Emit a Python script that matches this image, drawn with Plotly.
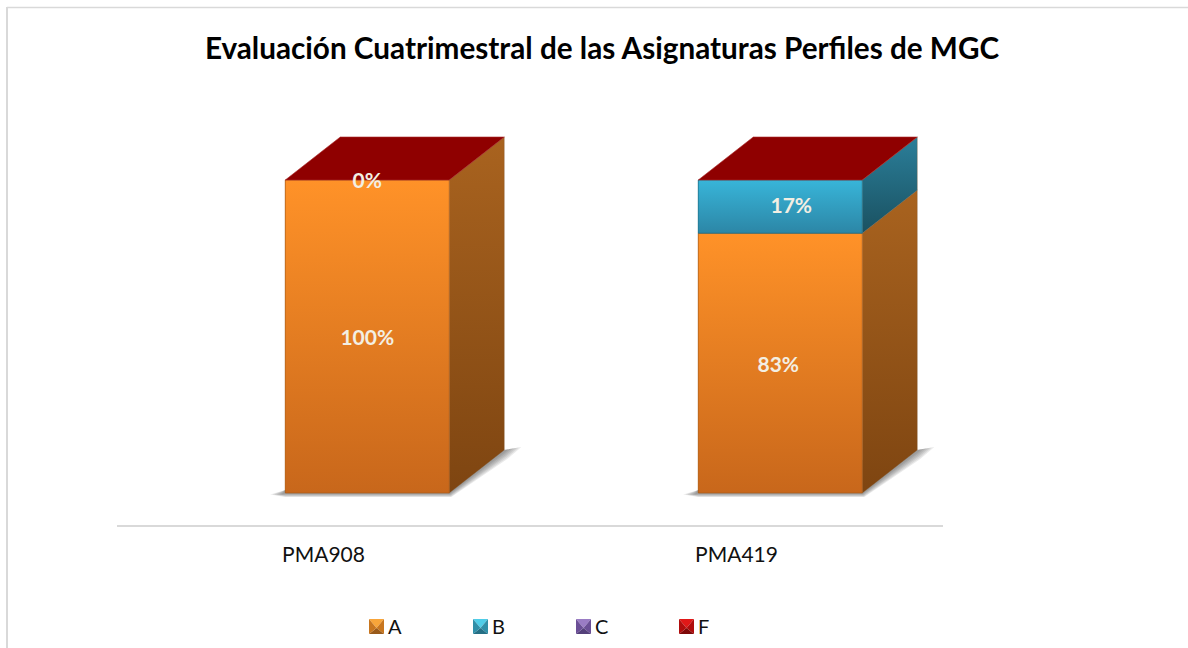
import plotly.graph_objects as go

W, H = 1188, 648
FONT = "Lato"

title = "Evaluación Cuatrimestral de las Asignaturas Perfiles de MGC"
subjects = ["PMA908", "PMA419"]
series_names = ["A", "B", "C", "F"]
values_a = [100, 83]
values_b = [0, 17]
values_c = [0, 0]
values_f = [0, 0]
label_a = ["100%", "83%"]
label_b = ["0%", "17%"]

# axis scale: pixels per data unit
PX_X = 413
PX_Y = 3.13
BAR_W = 164 / PX_X
BAR_SHIFT = 0.106
DEPTH_X = 55 / PX_X
DEPTH_Y = 43 / PX_Y

front = {"A": ("#C8671B", "#FF9228"), "B": ("#2C86A6", "#38B5D9")}
side = {"A": ("#7E4511", "#A9631F"), "B": ("#1A5161", "#2B7F9A")}
edge = {"A": "rgba(170,95,30,0.75)", "B": "rgba(30,110,135,0.75)"}
top_color = "#8F0000"
bevel = {
    "A": ("#F8A53A", "#C8761F", "#995A1A"),
    "B": ("#4FCDE8", "#2F8FA8", "#256F85"),
    "C": ("#9A7CC4", "#6B4F96", "#54407A"),
    "F": ("#E01818", "#B00D0D", "#7E0808"),
}


def fx(px):
    return px / W


def fy(py):
    return 1 - py / H


def poly(points, color, line=None, name=""):
    xs = [p[0] for p in points] + [points[0][0]]
    ys = [p[1] for p in points] + [points[0][1]]
    return go.Scatter(
        x=xs, y=ys, mode="lines", fill="toself", fillcolor=color,
        line=dict(color=line or "rgba(0,0,0,0)", width=1),
        hoverinfo="skip", showlegend=False, name=name,
    )


def grad_poly(points, colors, line=None):
    tr = poly(points, "rgba(0,0,0,0)", line)
    tr.fillcolor = None
    tr.fillgradient = dict(type="vertical", colorscale=[[0, colors[0]], [1, colors[1]]])
    return tr


fig = go.Figure()

# real bars underneath the shaded faces
for name, vals in zip(series_names, [values_a, values_b, values_c, values_f]):
    color = front[name][1] if name in front else bevel[name][1]
    fig.add_trace(go.Bar(
        x=[i + BAR_SHIFT for i in range(len(subjects))], y=vals, name=name,
        width=BAR_W, marker=dict(color=color, line=dict(width=0)), showlegend=False,
    ))

for i in range(len(subjects)):
    x0 = i + BAR_SHIFT - BAR_W / 2
    x1 = x0 + BAR_W
    xb = x1 + DEPTH_X
    total = values_a[i] + values_b[i] + values_c[i] + values_f[i]

    # soft floor shadow, a few translucent layers
    for g in [1, 0.85, 0.7, 0.55, 0.4, 0.25]:
        fig.add_trace(poly([
            (x0 - 15 * g / PX_X, -1.5 / PX_Y),
            (x0, 3 / PX_Y),
            (xb, DEPTH_Y),
            (xb + 17 * g / PX_X, DEPTH_Y + 3 * g / PX_Y),
            (xb + 3 * g / PX_X, DEPTH_Y - 9 * g / PX_Y),
            (x1 + 2 * g / PX_X, -4 * g / PX_Y),
            (x0, -4 * g / PX_Y),
        ], "rgba(60,60,60,0.11)"))

    base = 0
    for name, vals in zip(["A", "B"], [values_a, values_b]):
        v = vals[i]
        if v > 0:
            top = base + v
            fig.add_trace(grad_poly(
                [(x1, base), (xb, base + DEPTH_Y), (xb, top + DEPTH_Y), (x1, top)],
                side[name], "rgba(130,90,50,0.35)"))
            fig.add_trace(grad_poly(
                [(x0, base), (x1, base), (x1, top), (x0, top)],
                front[name], edge[name]))
        base += v

    fig.add_trace(poly(
        [(x0, total), (x1, total), (xb, total + DEPTH_Y), (x0 + DEPTH_X, total + DEPTH_Y)],
        top_color, "rgba(170,40,40,0.6)"))

# data labels, nudged a little as in the source chart
label_nudge_a = [3, 4]
label_nudge_b = [3, 1]
for i in range(len(subjects)):
    cx = i + BAR_SHIFT
    fig.add_trace(go.Scatter(
        x=[cx - (0 if i == 0 else 2 / PX_X), cx + (0 if i == 0 else 11 / PX_X)],
        y=[values_a[i] / 2 - label_nudge_a[i] / PX_Y,
           values_a[i] + values_b[i] / 2 - label_nudge_b[i] / PX_Y],
        mode="text", text=[label_a[i], label_b[i]], textposition="middle center",
        textfont=dict(family=FONT, size=21, color="#F3EFE3", weight="bold"),
        hoverinfo="skip", showlegend=False,
    ))

# frame of the picture
shapes = [
    dict(type="line", xref="paper", yref="paper", x0=fx(7), x1=fx(7), y0=0, y1=fy(7),
         line=dict(color="#D9D9D9", width=2)),
    dict(type="line", xref="paper", yref="paper", x0=fx(7), x1=1, y0=fy(7.5), y1=fy(7.5),
         line=dict(color="#D9D9D9", width=1.5)),
]

# legend keys: square with bevelled faces
annotations = []
legend_x = [369, 473, 576, 679]
for name, lx in zip(series_names, legend_x):
    light, mid, dark = bevel[name]
    ly, s = 619, 15
    cxp, cyp = lx + s / 2, ly + s * 0.6
    corners = {"tl": (lx, ly), "tr": (lx + s, ly), "br": (lx + s, ly + s), "bl": (lx, ly + s)}
    faces = [("tl", "tr", light), ("tr", "br", mid), ("br", "bl", dark), ("bl", "tl", mid)]
    for a, b, col in faces:
        pa, pb = corners[a], corners[b]
        path = (f"M{fx(pa[0])},{fy(pa[1])} L{fx(pb[0])},{fy(pb[1])} "
                f"L{fx(cxp)},{fy(cyp)} Z")
        shapes.append(dict(type="path", xref="paper", yref="paper", path=path,
                           fillcolor=col, line=dict(width=0)))
    annotations.append(dict(
        xref="paper", yref="paper", x=fx(lx + 17), y=fy(625.5), text=name, showarrow=False,
        xanchor="left", yanchor="middle", font=dict(family=FONT, size=20, color="#111111"),
    ))

fig.update_layout(
    width=W, height=H, autosize=False,
    barmode="stack",
    paper_bgcolor="white", plot_bgcolor="white",
    margin=dict(l=0, r=0, t=0, b=0),
    showlegend=False,
    title=dict(text=title, x=fx(602), y=fy(49), xanchor="center", yanchor="middle",
               font=dict(family=FONT, size=29.7, color="black", weight="bold")),
    xaxis=dict(
        domain=[fx(117), fx(943)], range=[-0.5, 1.5],
        tickvals=list(range(len(subjects))), ticktext=subjects,
        showgrid=False, zeroline=False, showline=True, linecolor="#D9D9D9", linewidth=2,
        ticks="outside", ticklen=10, tickcolor="rgba(0,0,0,0)",
        tickfont=dict(family=FONT, size=21, color="#111111"),
    ),
    yaxis=dict(
        domain=[fy(525), fy(100)], range=[-32 / PX_Y, 393 / PX_Y],
        visible=False, showgrid=False, zeroline=False,
    ),
    shapes=shapes,
    annotations=annotations,
)

fig.write_html("out.html", config=dict(displayModeBar=False),
               post_script="document.body.style.margin='0';")
